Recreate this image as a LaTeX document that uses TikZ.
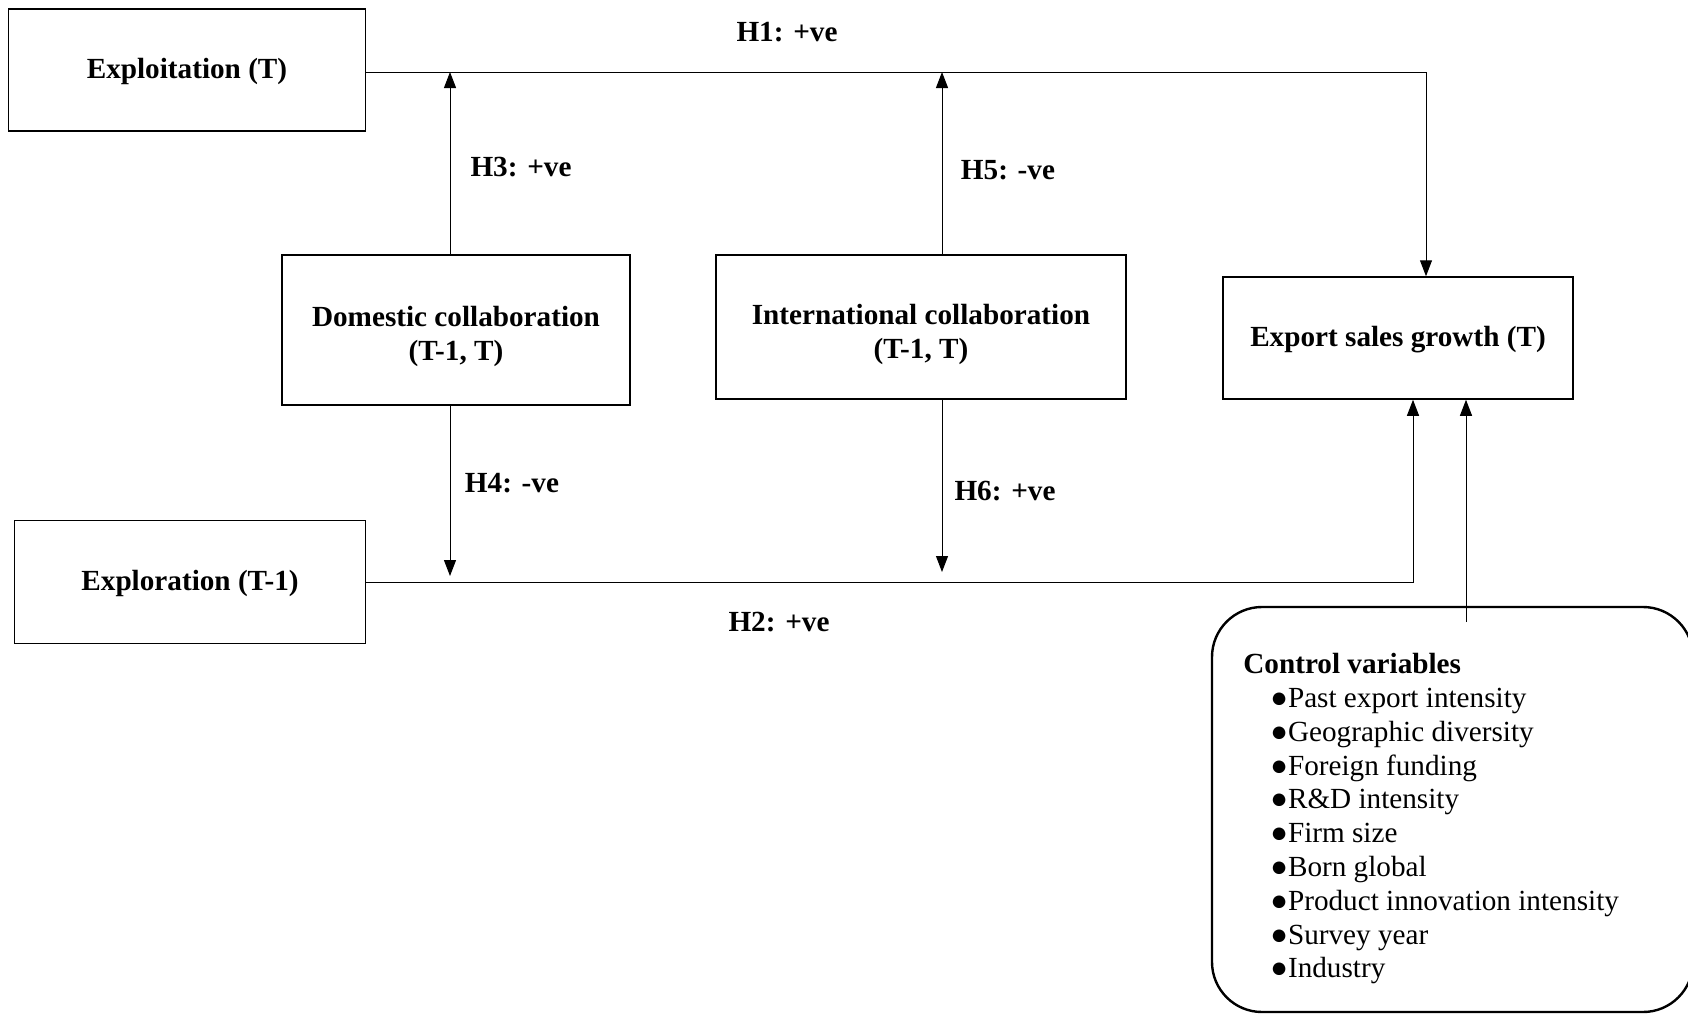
\documentclass[tikz,border=0pt]{standalone}
\usepackage{fontspec}
\setmainfont{Liberation Serif}
\usetikzlibrary{arrows.meta}

\newcommand{\droptext}[1]{\rule{0pt}{#1}}

\tikzset{
  varbox/.style={draw, line width=0.75pt, inner sep=0pt, align=center,
    font=\bfseries\fontsize{14.6}{17}\selectfont},
  hyplink/.style={line width=0.5pt, -{Triangle[width=6pt,length=8pt]}},
  hyplabel/.style={font=\bfseries\fontsize{14.6}{17}\selectfont}
}

\begin{document}
\begin{tikzpicture}[x=0.5pt, y=-0.5pt]
  \useasboundingbox (0,0) rectangle (1688,1013);
  \node[varbox, minimum width=178.5pt, minimum height=61pt] (exploit) at (187,70) {\droptext{12pt}Exploitation (T)};
  \node[varbox, minimum width=175.5pt, minimum height=61.5pt] (explore) at (190,582) {\droptext{12pt}Exploration (T-1)};
  \node[varbox, minimum width=174pt, minimum height=75pt] (domestic) at (456,330) {\droptext{17pt}Domestic collaboration\\(T-1, T)};
  \node[varbox, minimum width=205pt, minimum height=72pt] (intl) at (921,327) {\droptext{18pt}International collaboration\\(T-1, T)};
  \node[varbox, minimum width=175pt, minimum height=61pt] (export) at (1398,338) {\droptext{12pt}Export sales growth (T)};
  \node[draw, line width=1.2pt, rounded corners=25pt, minimum width=240.5pt, minimum height=202.5pt] (control) at (1452.5,809.5) {};
  \node[anchor=north west, inner sep=0pt, align=left, font=\fontsize{14.6}{16.9}\selectfont] (ctrllist) at (1243,653)
    {\textbf{Control variables}\\
     \hspace*{13.5pt}●Past export intensity\\
     \hspace*{13.5pt}●Geographic diversity\\
     \hspace*{13.5pt}●Foreign funding\\
     \hspace*{13.5pt}●R\&D intensity\\
     \hspace*{13.5pt}●Firm size\\
     \hspace*{13.5pt}●Born global\\
     \hspace*{13.5pt}●Product innovation intensity\\
     \hspace*{13.5pt}●Survey year\\
     \hspace*{13.5pt}●Industry};
  \coordinate (h1bend) at (1426,72);
  \coordinate (h2bend) at (1413,582);
  \coordinate (h3top) at (450,72);
  \coordinate (h4tip) at (450,576);
  \coordinate (h5top) at (942,72);
  \coordinate (h6tip) at (942,572);
  \coordinate (ctrlfoot) at (1466,622);
  \draw[hyplink] (exploit.east |- h1bend) -- (h1bend) -- (h1bend |- export.north);
  \draw[hyplink] (explore.east |- h2bend) -- (h2bend) -- (h2bend |- export.south);
  \draw[hyplink] (domestic.north -| h3top) -- (h3top);
  \draw[hyplink] (domestic.south -| h4tip) -- (h4tip);
  \draw[hyplink] (intl.north -| h5top) -- (h5top);
  \draw[hyplink] (intl.south -| h6tip) -- (h6tip);
  \draw[hyplink] (ctrlfoot) -- (ctrlfoot |- export.south);
  \node[hyplabel] (h1lab) at (787,32) {H1: +ve};
  \node[hyplabel] (h2lab) at (779,622) {H2: +ve};
  \node[hyplabel] (h3lab) at (521,167) {H3: +ve};
  \node[hyplabel] (h4lab) at (512,483) {H4: -ve};
  \node[hyplabel] (h5lab) at (1008,170) {H5: -ve};
  \node[hyplabel] (h6lab) at (1005,491) {H6: +ve};
\end{tikzpicture}
\end{document}
